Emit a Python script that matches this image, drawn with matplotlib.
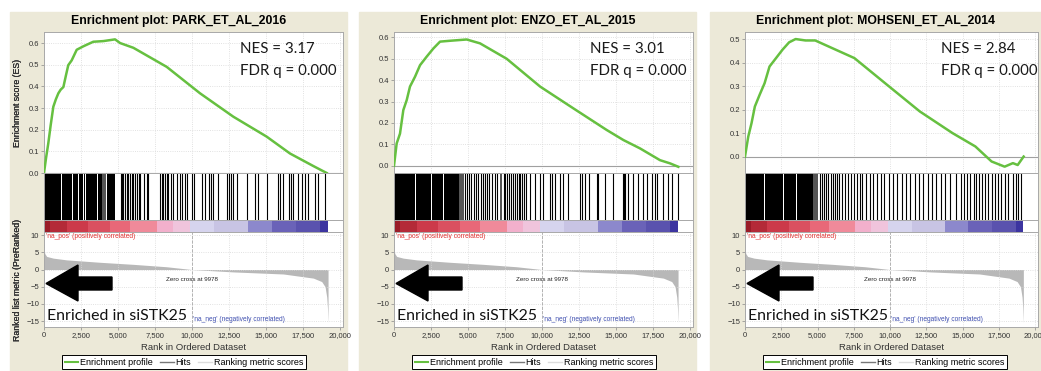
import matplotlib
matplotlib.use("Agg")
import matplotlib.pyplot as plt
from matplotlib.lines import Line2D
from matplotlib.patches import Rectangle, Polygon

W, H = 1041, 371

titles = ["Enrichment plot: PARK_ET_AL_2016",
          "Enrichment plot: ENZO_ET_AL_2015",
          "Enrichment plot: MOHSENI_ET_AL_2014"]
nes = ["3.17", "3.01", "2.84"]
fdr = ["0.000", "0.000", "0.000"]

# running enrichment score
es_rank_1 = [0, 140, 290, 450, 630, 800, 970, 1130, 1310, 1480, 1640, 1870, 2210,
             2660, 3330, 4010, 4800, 5140, 6040, 8290, 10540, 12790, 15040,
             16620, 18200, 19100]
es_val_1 = [0.0, 0.07, 0.137, 0.22, 0.306, 0.34, 0.368, 0.385, 0.397, 0.45,
            0.498, 0.52, 0.569, 0.585, 0.606, 0.609, 0.617, 0.60, 0.578, 0.49,
            0.368, 0.26, 0.168, 0.09, 0.032, 0.0]
es_rank_2 = [0, 180, 405, 630, 860, 1080, 1420, 1760, 2210, 2660, 3110, 3780,
             4910, 5810, 7610, 9870, 12120, 14370, 15500, 16620, 17970, 18650, 19210]
es_val_2 = [0.0, 0.104, 0.15, 0.26, 0.307, 0.37, 0.416, 0.47, 0.51, 0.548, 0.58,
            0.584, 0.59, 0.572, 0.50, 0.37, 0.268, 0.167, 0.12, 0.081, 0.026, 0.011, -0.005]
es_rank_3 = [0, 225, 450, 680, 1010, 1350, 1690, 2140, 2590, 3040, 3490, 4170,
             4840, 5740, 7540, 9800, 12050, 14300, 15880, 17000, 17900, 18470, 18800, 19210]
es_val_3 = [0.0, 0.085, 0.142, 0.213, 0.263, 0.312, 0.383, 0.419, 0.455, 0.486,
            0.50, 0.494, 0.494, 0.469, 0.419, 0.305, 0.192, 0.10, 0.043, -0.021,
            -0.043, -0.028, -0.036, 0.0]

es_ylims = [(0.0, 0.651), (-0.034, 0.625), (-0.07, 0.53)]
es_ticks = [[0.0, 0.1, 0.2, 0.3, 0.4, 0.5, 0.6],
            [0.0, 0.1, 0.2, 0.3, 0.4, 0.5, 0.6],
            [0.0, 0.1, 0.2, 0.3, 0.4, 0.5]]

# hit positions: solid runs (start, end) and single hits
hit_blocks_1 = [(0, 1150), (1220, 1920), (1980, 2330), (2370, 2650), (2700, 2770),
                (2830, 2950), (3000, 3560), (3620, 3900), (4230, 4800)]
hit_gray_1 = [(3950, 4200)]
hit_lines_1 = [5180, 5270, 5360, 5490, 5585, 5700, 5810, 5920, 5990, 6125, 6260,
               6395, 6485, 6756, 6936, 7050, 7837, 7950, 8062, 8175, 8287, 8400,
               8558, 8738, 8963, 9188, 9346, 9548, 9638, 10021, 10156, 10652,
               10877, 11147, 11305, 11440, 11778, 12341, 12476, 12611, 12791,
               13016, 13692, 14255, 14480, 15043, 15832, 15944, 16170, 16575,
               16688, 16845, 17183, 17408, 17634, 17859, 18310, 18490, 18985]

hit_blocks_2 = [(0, 1400), (1480, 2500), (2580, 3300), (3380, 4400)]
hit_gray_2 = [(4400, 4700), (7162, 7300)]
hit_lines_2 = [4800, 4950, 5100, 5230, 5400, 5550, 5700, 5850, 5990, 6150, 6300,
               6450, 6600, 6800, 6950, 7400, 7520, 7650, 7780, 7900, 8060, 8180,
               8300, 8420, 8540, 8660, 8780, 8900, 9190, 9528, 9865, 10045,
               10541, 10654, 10879, 11217, 11397, 11780, 12568, 12681, 12906,
               13199, 13694, 13807, 14257, 14820, 15451, 15530, 15609, 15834,
               16172, 16510, 16803, 17073, 17411, 17636, 17749, 18199, 18537,
               18762, 19212]

hit_blocks_3 = [(0, 1300), (1400, 2600), (2700, 3500), (3600, 4700)]
hit_gray_3 = [(4700, 5000)]
hit_lines_3 = [5150, 5300, 5450, 5600, 5750, 5900, 6050, 6200, 6350, 6500, 6700,
               6900, 7100, 7300, 7500, 7700, 7900, 8100, 8350, 8600, 8850,
               9100, 9350, 9600, 9900, 10200, 10500, 10800, 11100, 11400,
               11700, 12000, 12300, 12600, 12900, 13200, 13500, 13800, 14100,
               14527, 14865, 15090, 15316, 15541, 15766, 15924, 16104, 16330,
               16555, 16780, 17005, 17231, 17456, 17681, 17906, 18132, 18470,
               18695, 18807, 19032]

# ranked list metric (same list for every gene set)
metric_rank = [0, 60, 180, 630, 1530, 3780, 6040, 8290, 9978, 12790, 16170,
               18200, 18760, 18990, 19100, 19150, 19190]
metric_val = [5.5, 4.6, 3.8, 3.3, 2.8, 2.1, 1.5, 0.8, 0.0, -0.7, -1.3,
              -2.5, -3.5, -5.0, -8.0, -11.0, -15.5]
zero_cross = 9978

band_edges = [0, 400, 1530, 3000, 4460, 5800, 7610, 8700, 9860, 11500, 13800,
              15380, 17000, 18650, 19190]
band_colors = ['#9A1C28', '#B42A38', '#CC3A4A', '#DA5060', '#E86878', '#F08A9A',
               '#F2B0CC', '#F0C4DC', '#D6D4EE', '#C8C4E4', '#8C88CC', '#6A62B8',
               '#5A52AE', '#3C34A0']

xticks = [0, 2500, 5000, 7500, 10000, 12500, 15000, 17500, 20000]
xticklabels = ["0", "2,500", "5,000", "7,500", "10,000", "12,500", "15,000",
               "17,500", "20,000"]
metric_ticks = [-15, -10, -5, 0, 5, 10]

es_ranks = [es_rank_1, es_rank_2, es_rank_3]
es_vals = [es_val_1, es_val_2, es_val_3]
hit_blocks = [hit_blocks_1, hit_blocks_2, hit_blocks_3]
hit_grays = [hit_gray_1, hit_gray_2, hit_gray_3]
hit_lines = [hit_lines_1, hit_lines_2, hit_lines_3]

panel_x = [(10, 347), (359, 696), (710, 1041)]
plot_x = [(44, 343), (394, 693), (745, 1038)]

BEIGE = '#ECE9D8'
GREEN = '#66C040'
FONT = 'Liberation Sans'
BIG = 'Lato'
XMAX = 20200


def box(x0, y0, x1, y1):
    return [x0 / W, 1 - y1 / H, (x1 - x0) / W, (y1 - y0) / H]


def style(ax):
    for s in ax.spines.values():
        s.set_color('#A8A8A8')
        s.set_linewidth(0.7)
    ax.tick_params(length=2, width=0.5, color='#888888', labelsize=5.5,
                   labelcolor='#333333', pad=1.5)
    ax.set_xlim(0, XMAX)


fig = plt.figure(figsize=(W / 100, H / 100), dpi=100)
plt.rcParams['font.family'] = FONT

for i in range(3):
    px0, px1 = panel_x[i]
    l, r = plot_x[i]
    fig.patches.append(Rectangle((px0 / W, 0), (px1 - px0) / W, 1 - 12 / H,
                                 transform=fig.transFigure, color=BEIGE, zorder=-10))
    fig.text((px0 + px1) / 2 / W, 1 - 21 / H, titles[i], ha='center', va='center',
             fontsize=8.8, fontweight='bold', family=FONT)

    # enrichment score
    ax = fig.add_axes(box(l, 32, r, 173))
    ax.plot(es_ranks[i], es_vals[i], color=GREEN, lw=1.8, zorder=3)
    ax.axhline(0, color='#A0A0A0', lw=0.8, zorder=2)
    ax.set_ylim(*es_ylims[i])
    ax.set_yticks(es_ticks[i])
    ax.set_yticklabels(["%.1f" % t for t in es_ticks[i]])
    ax.set_xticks(xticks)
    ax.set_xticklabels([])
    ax.tick_params(axis='x', length=0)
    ax.grid(True, color='#D8D8D8', ls=':', lw=0.6)
    style(ax)
    ax.set_ylabel("Enrichment score (ES)", fontsize=6.3, color='#333333')
    ax.yaxis.set_label_coords((22 - l) / (r - l), 0.5)
    fig.text((l + 196) / W, 1 - 49 / H, "NES = " + nes[i], fontsize=10.8,
             family=BIG, va='center', color='#1A1A1A')
    fig.text((l + 196) / W, 1 - 71 / H, "FDR q = " + fdr[i], fontsize=10.8,
             family=BIG, va='center', color='#1A1A1A')

    # hits
    axh = fig.add_axes(box(l, 173, r, 220))
    for a, b in hit_blocks[i]:
        axh.axvspan(a, b, color='black', lw=0)
    for a, b in hit_grays[i]:
        axh.axvspan(a, b, color='#555555', lw=0)
    axh.vlines(hit_lines[i], 0, 1, color='black', lw=0.8)
    axh.set_ylim(0, 1)
    axh.set_xticks([])
    axh.set_yticks([])
    style(axh)

    # rank colour band
    axc = fig.add_axes(box(l, 220, r, 232))
    for k in range(len(band_colors)):
        axc.axvspan(band_edges[k], band_edges[k + 1], color=band_colors[k], lw=0)
    axc.set_xticks([])
    axc.set_yticks([])
    style(axc)

    # ranked list metric
    axm = fig.add_axes(box(l, 232, r, 327))
    axm.fill_between(metric_rank, metric_val, 0, color='#B8B8B8', lw=0)
    axm.axvline(zero_cross, color='#A8A8A8', ls='--', lw=0.6)
    axm.set_ylim(-16.7, 10.9)
    axm.set_yticks(metric_ticks)
    axm.set_xticks(xticks)
    axm.set_xticklabels(xticklabels)
    axm.grid(True, color='#D8D8D8', ls=':', lw=0.6)
    style(axm)
    axm.set_xlabel("Rank in Ordered Dataset", fontsize=6.8, color='#333333',
                   labelpad=3)
    axm.set_ylabel("Ranked list metric (PreRanked)", fontsize=6.3, color='#333333')
    axm.yaxis.set_label_coords((22 - l) / (r - l), 0.5)
    axm.text(120, 9.6, "'na_pos' (positively correlated)", fontsize=4.8,
             color='#E03030', va='center')
    axm.text(zero_cross, -2.8, "Zero cross at " + str(zero_cross), fontsize=4.5,
             color='#222222', ha='center', va='center')
    axm.text(10040, -14.6, "'na_neg' (negatively correlated)", fontsize=4.8,
             color='#4050B0', va='center')

    # arrow and label
    cy = 283.5
    pts = [(l + 2, cy), (l + 34, 265), (l + 34, 277), (l + 68, 277),
           (l + 68, 290), (l + 34, 290), (l + 34, 301)]
    fig.patches.append(Polygon([(x / W, 1 - y / H) for x, y in pts], closed=True,
                               transform=fig.transFigure, color='black', zorder=10))
    fig.text((l + 3) / W, 1 - 320 / H, "Enriched in siSTK25", fontsize=11.4,
             family=BIG, va='baseline', color='#111111', zorder=11)

    # legend
    handles = [Line2D([], [], color=GREEN, lw=1.5),
               Line2D([], [], color='#777777', lw=1),
               Line2D([], [], color='#DDDDDD', lw=1)]
    leg = fig.legend(handles, ["Enrichment profile", "Hits", "Ranking metric scores"],
                     loc='upper left', bbox_to_anchor=((l + 18) / W, 1 - 355 / H),
                     ncol=3, fontsize=6.5, frameon=True, fancybox=False,
                     edgecolor='black', framealpha=1, handlelength=1.5,
                     handletextpad=0.2, columnspacing=0.8, borderpad=0.3,
                     borderaxespad=0)
    leg.get_frame().set_linewidth(0.7)

fig.savefig("out.png", dpi=100)
